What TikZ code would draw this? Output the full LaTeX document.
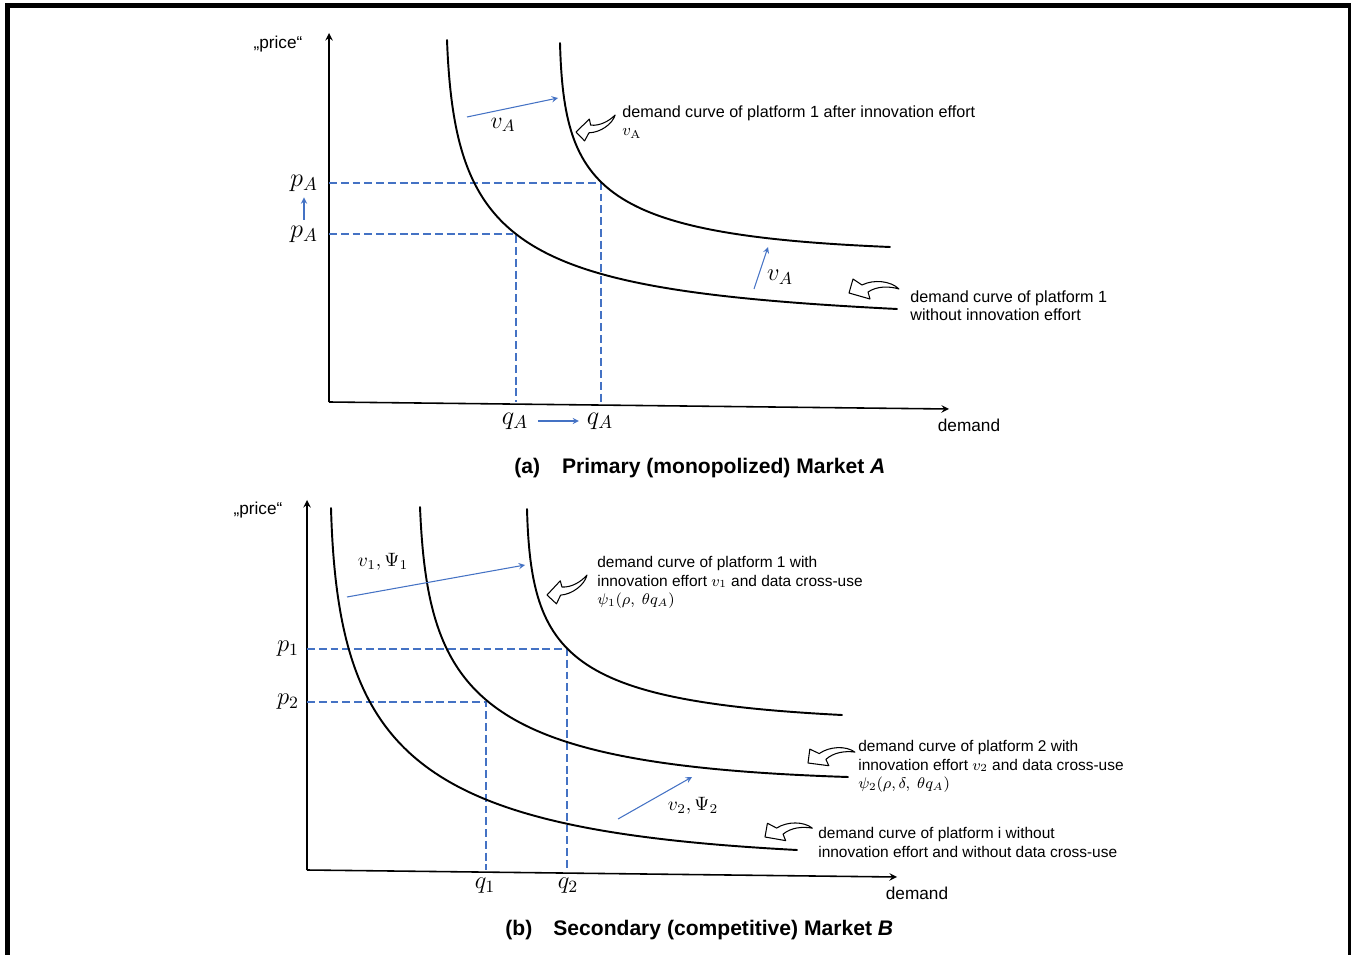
\RequirePackage{fix-cm}
\documentclass[tikz,border=0pt]{standalone}
\usepackage{fontspec}
\setsansfont{Liberation Sans}
\usetikzlibrary{positioning}
\definecolor{lineblue}{RGB}{68,114,196}

\tikzset{
  demandcurve/.style={line width=1.1pt, line cap=round},
  axisline/.style={line width=0.9pt, -stealth},
  guideline/.style={draw=lineblue, line width=1.1pt, dash pattern=on 4.5pt off 2.2pt},
  effectarrow/.style={draw=lineblue, line width=0.6pt, -stealth},
  notetext/.style={font=\sffamily\fontsize{#1}{10.5}\selectfont, align=left, anchor=north west, inner sep=0pt},
  notetext/.default=9.2,
  axistext/.style={font=\sffamily\fontsize{9.8}{12}\selectfont, inner sep=0pt},
  captiontext/.style={font=\sffamily\bfseries\fontsize{12}{14}\selectfont, anchor=west, inner sep=0pt},
  symlabel/.style={font=\fontsize{#1}{#1}\selectfont},
  symlabel/.default=15,
  hollowarrow/.pic={
    \draw[line width=0.6pt, fill=white, line join=round]
      (0,0) -- (4,-14) -- (13,-8) .. controls (25,-14) and (42,-12) .. (50,-4)
      .. controls (40,-7) and (28,-7) .. (19,-1) -- (21,6) -- cycle;
  }
}

\begin{document}
\begin{tikzpicture}[x=0.02cm, y=-0.02cm]
  \useasboundingbox (0,0) rectangle (1351,955);
  \draw[line width=2.3pt] (7.5,955) -- (7.5,5.5) -- (1350,5.5) -- (1350,955);

  % (a) primary market
  \coordinate (oA) at (329,402);
  \coordinate (yA) at (329,33);
  \coordinate (xA) at (949,409);
  \draw[axisline] (oA) -- (yA);
  \draw[axisline] (oA) -- (xA);
  \node[axistext] (priceA) at (278,44) {„price“};
  \node[axistext] (demandA) at (969,425) {demand};

  \coordinate (eqA0) at (516,234);
  \coordinate (eqA1) at (601,183);
  \draw[guideline] (oA |- eqA1) -- (eqA1) -- (eqA1 |- oA);
  \draw[guideline] (oA |- eqA0) -- (eqA0) -- (eqA0 |- oA);

  \draw[demandcurve] (447,40) .. controls (455,250) and (520,290) .. (897,309);
  \draw[demandcurve] (560,43) .. controls (564,190) and (600,235) .. (890,247);

  \node[symlabel] (pA1) at (304,183) {$p_A$};
  \node[symlabel] (pA0) at (304,234) {$p_A$};
  \draw[effectarrow] (pA0) -- (pA1);
  \node[symlabel] (qA0) at (515,421) {$q_A$};
  \node[symlabel] (qA1) at (600,421) {$q_A$};
  \draw[effectarrow, shorten <=2pt, shorten >=1pt] (qA0) -- (qA1);

  \coordinate (vAs) at (467,117);
  \coordinate (vAe) at (558,98);
  \draw[effectarrow] (vAs) -- (vAe);
  \node[symlabel=13.5] (vA) at (503,125) {$v_A$};
  \coordinate (vAup0) at (754,289);
  \coordinate (vAup1) at (768,247);
  \draw[effectarrow] (vAup0) -- (vAup1);
  \node[symlabel=14] (vAup) at (780,277) {$v_A$};

  \pic[rotate=28, yscale=-1, scale=0.85] at (576,132) {hollowarrow};
  \pic at (849,293) {hollowarrow};
  \node[notetext] (noteA1) at (622,105) {demand curve of platform 1 after innovation effort\\ $v_\mathrm{A}$};
  \node[notetext] (noteA0) at (910,290) {demand curve of platform 1\\ without innovation effort};

  \node[captiontext] (capA) at (514,468) {(a)\hspace{12.5pt}Primary (monopolized) Market \textit{A}};

  % (b) secondary market
  \coordinate (oB) at (307,870);
  \coordinate (yB) at (307,500);
  \coordinate (xB) at (897,877);
  \draw[axisline] (oB) -- (yB);
  \draw[axisline] (oB) -- (xB);
  \node[axistext] (priceB) at (258,510) {„price“};
  \node[axistext] (demandB) at (917,893) {demand};

  \coordinate (eqB1) at (567,649);
  \coordinate (eqB2) at (486,702);
  \draw[guideline] (oB |- eqB1) -- (eqB1) -- (eqB1 |- oB);
  \draw[guideline] (oB |- eqB2) -- (eqB2) -- (eqB2 |- oB);

  \draw[demandcurve] (331,508) .. controls (338,760) and (420,830) .. (797,850);
  \draw[demandcurve] (420,507) .. controls (428,700) and (480,765) .. (848,777);
  \draw[demandcurve] (527,509) .. controls (531,656) and (567,701) .. (842,715);

  \node[symlabel=14] (p1) at (288,649) {$p_1$};
  \node[symlabel=14] (p2) at (288,702) {$p_2$};
  \node[symlabel=14] (q1) at (485,886) {$q_1$};
  \node[symlabel=14] (q2) at (568,886) {$q_2$};

  \coordinate (v1s) at (347,597);
  \coordinate (v1e) at (525,565);
  \draw[effectarrow] (v1s) -- (v1e);
  \node[symlabel=11] (v1) at (383,562) {$v_1, \Psi_1$};
  \coordinate (v2s) at (618,819);
  \coordinate (v2e) at (692,777);
  \draw[effectarrow] (v2s) -- (v2e);
  \node[symlabel=11] (v2) at (693,806) {$v_2, \Psi_2$};

  \pic[rotate=31, yscale=-1, scale=0.89] at (547,595) {hollowarrow};
  \pic[rotate=8.5, scale=0.96] at (808,763) {hollowarrow};
  \pic[rotate=6, scale=0.96] at (765,837) {hollowarrow};
  \node[notetext=8.8] (noteB1) at (597,556) {demand curve of platform 1 with\\ innovation effort $v_1$ and data cross-use\\ $\psi_1(\rho,\ \theta q_A)$};
  \node[notetext=8.8] (noteB2) at (858,740) {demand curve of platform 2 with\\ innovation effort $v_2$ and data cross-use\\ $\psi_2(\rho,\delta,\ \theta q_A)$};
  \node[notetext=8.8] (noteBi) at (818,827) {demand curve of platform i without\\ innovation effort and without data cross-use};

  \node[captiontext] (capB) at (505,930) {(b)\hspace{12pt}Secondary (competitive) Market \textit{B}};
\end{tikzpicture}
\end{document}
